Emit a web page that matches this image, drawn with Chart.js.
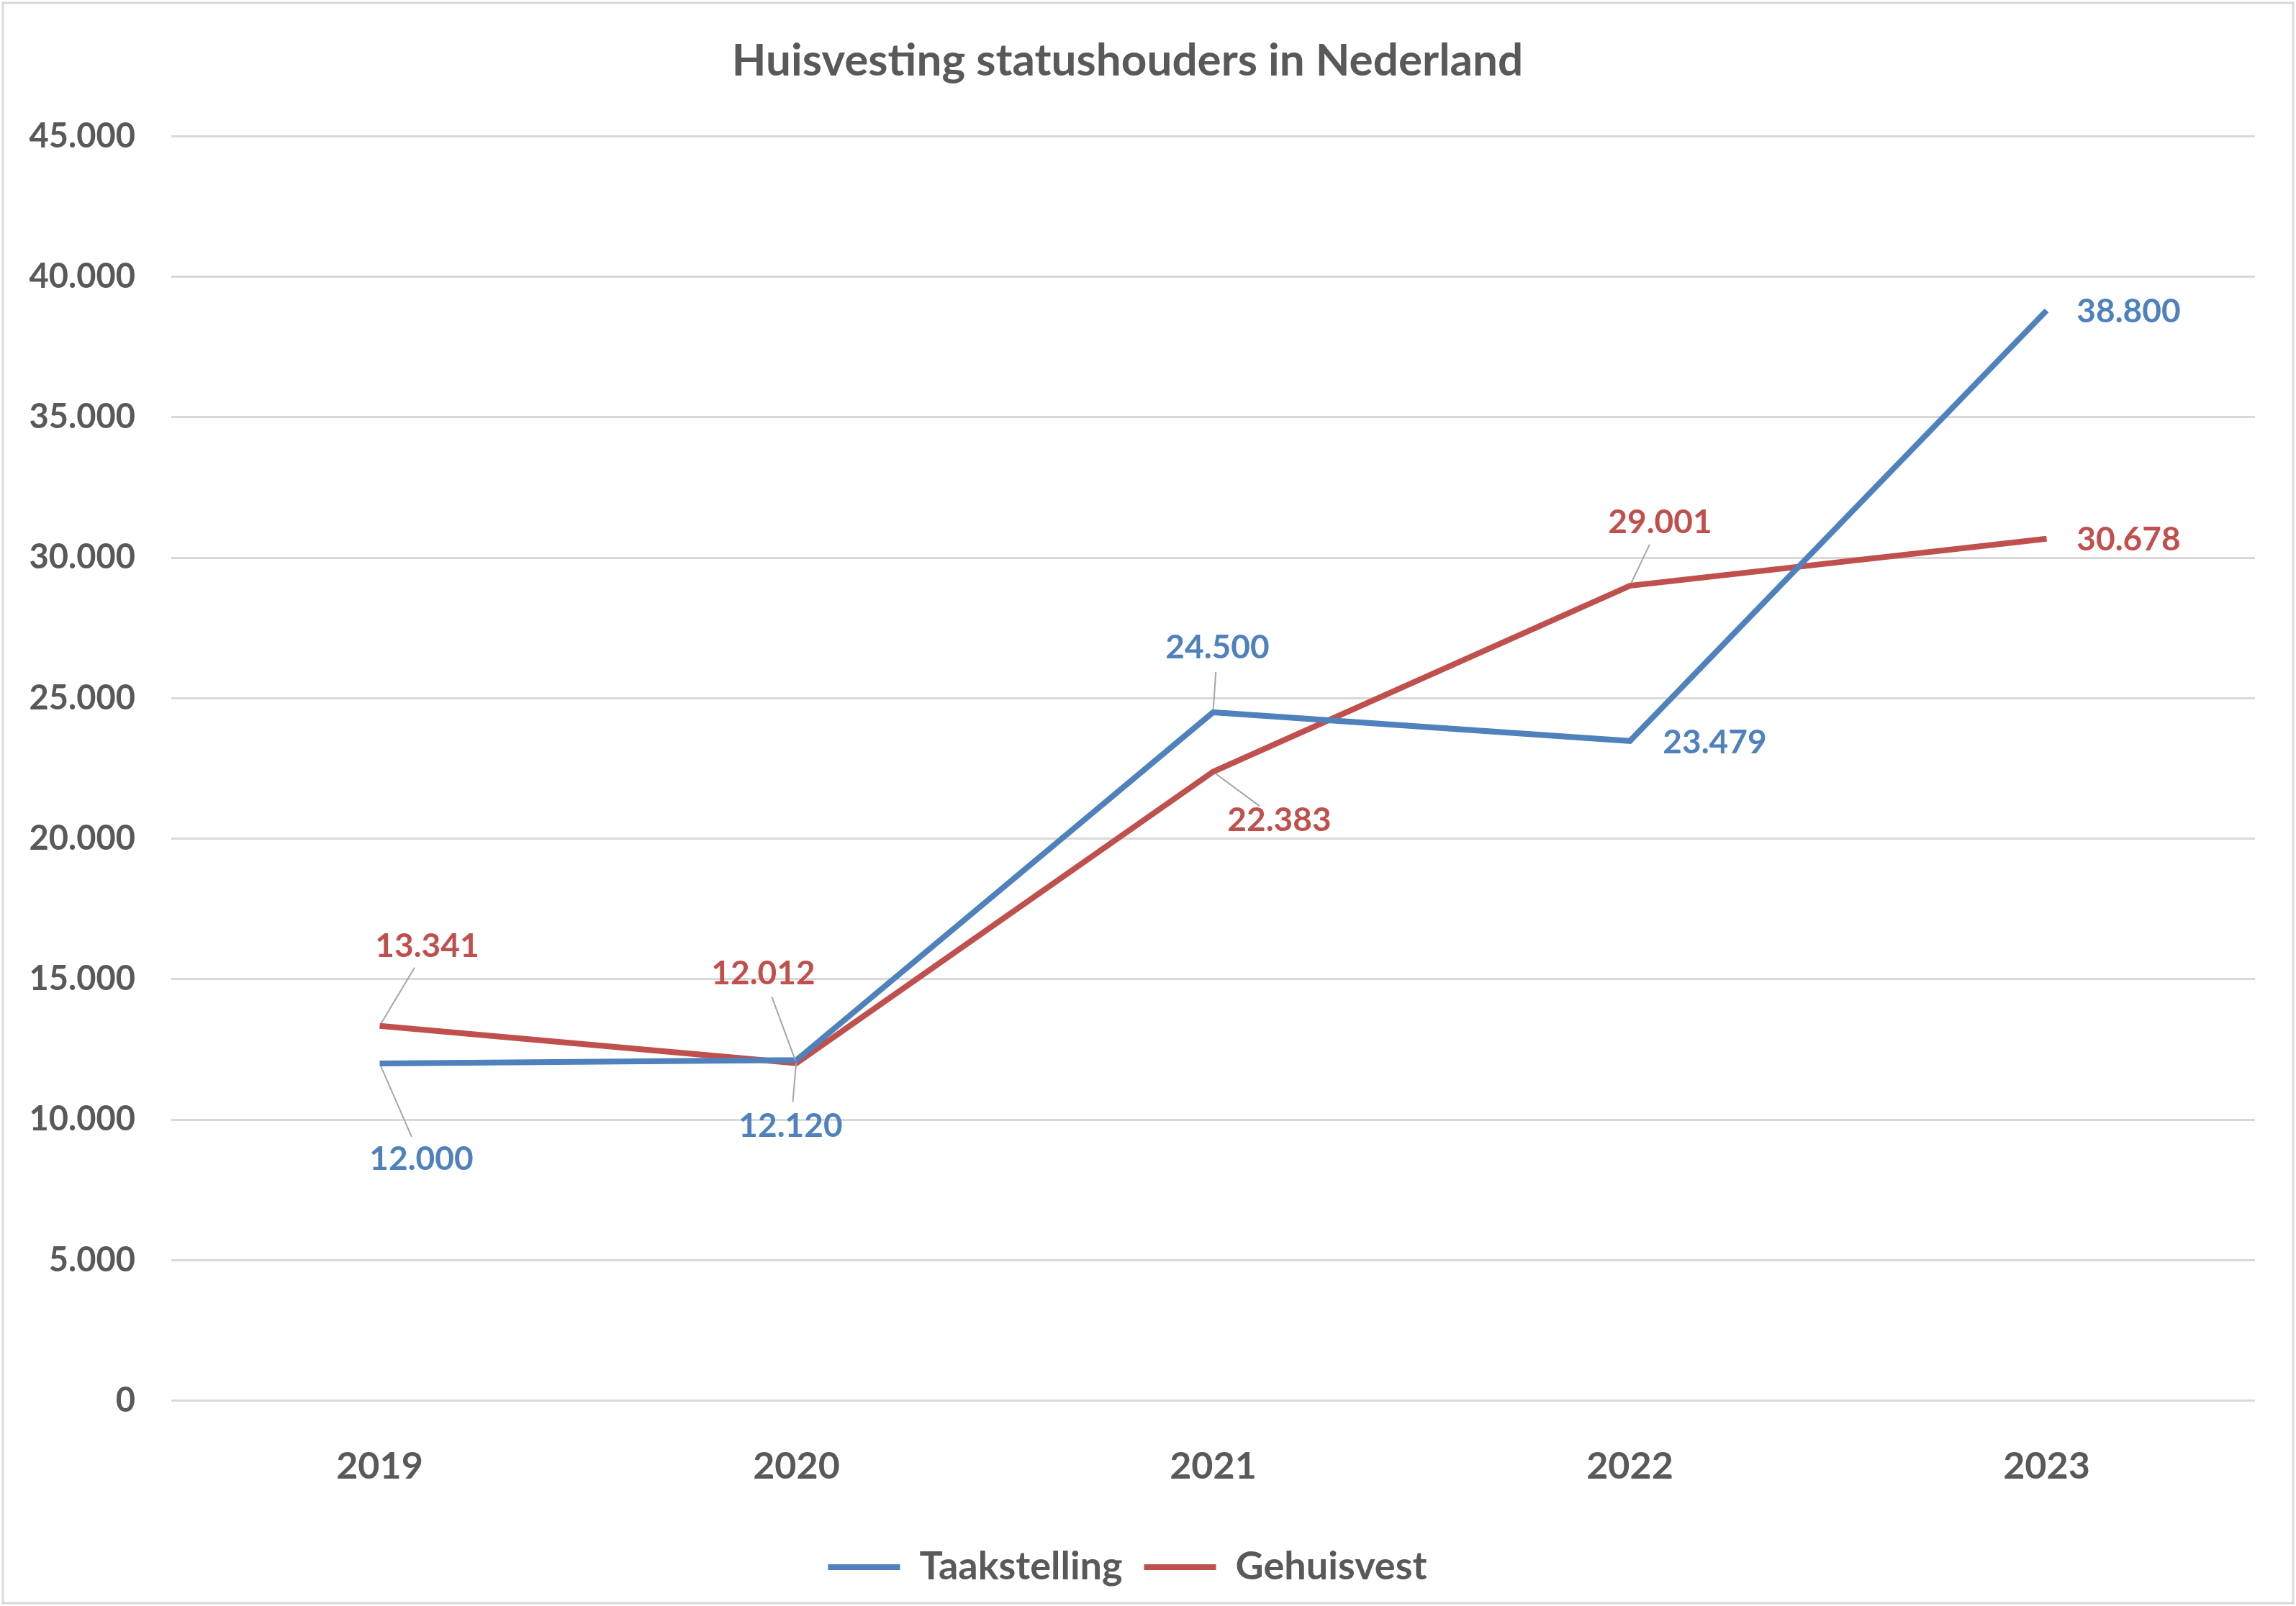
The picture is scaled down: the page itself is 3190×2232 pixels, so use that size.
<!DOCTYPE html>
<html>
<head>
<meta charset="utf-8">
<script src="https://cdn.jsdelivr.net/npm/chart.js@4/dist/chart.umd.min.js"></script>
<style>
  html, body { margin: 0; padding: 0; background: #fff; }
  canvas { display: block; }
</style>
</head>
<body>
<canvas id="chart" width="3190" height="2232"></canvas>
<script>
// Chart data
const years = ['2019', '2020', '2021', '2022', '2023'];
const taakstelling = [12000, 12120, 24500, 23479, 38800];
const gehuisvest = [13341, 12012, 22383, 29001, 30678];

// label offsets from the point, in pixels (dx, dy, leader line?)
const taakOffsets = [[58, 133, true], [-8, 92, true], [6, -90, true], [118, 2, false], [114, 2, false]];
const gehuisOffsets = [[66, -110, true], [-46, -124, true], [92, 68, true], [42, -88, true], [114, 2, false]];

const fontFamily = 'Lato, "Open Sans", sans-serif';

function fmt(v) {
    return v.toLocaleString('nl-NL');
}

// Data labels with leader lines
const dataLabels = {
    id: 'dataLabels',
    afterDatasetsDraw(chart) {
        const ctx = chart.ctx;
        const allOffsets = [taakOffsets, gehuisOffsets];
        chart.data.datasets.forEach((ds, di) => {
            const meta = chart.getDatasetMeta(di);
            meta.data.forEach((pt, i) => {
                const [dx, dy, leader] = allOffsets[di][i];
                const lx = pt.x + dx, ly = pt.y + dy;
                if (leader) {
                    const dist = Math.hypot(dx, dy);
                    const ux = dx / dist, uy = dy / dist;
                    ctx.save();
                    ctx.strokeStyle = '#a6a6a6';
                    ctx.lineWidth = 2;
                    ctx.beginPath();
                    ctx.moveTo(pt.x + ux * 4, pt.y + uy * 4);
                    ctx.lineTo(lx - ux * 34, ly - uy * 34);
                    ctx.stroke();
                    ctx.restore();
                }
                ctx.save();
                ctx.font = 'bold 46px ' + fontFamily;
                ctx.fillStyle = ds.borderColor;
                ctx.textAlign = 'center';
                ctx.textBaseline = 'middle';
                ctx.fillText(fmt(ds.data[i]), lx, ly);
                ctx.restore();
            });
        });
    }
};

// White background and light frame
const frame = {
    id: 'frame',
    beforeDraw(chart) {
        const ctx = chart.ctx;
        ctx.save();
        ctx.fillStyle = '#ffffff';
        ctx.fillRect(0, 0, chart.width, chart.height);
        ctx.strokeStyle = '#d9d9d9';
        ctx.lineWidth = 3;
        ctx.strokeRect(4, 4, chart.width - 8, chart.height - 8);
        ctx.restore();
    }
};

new Chart(document.getElementById('chart'), {
    type: 'line',
    data: {
        labels: years,
        datasets: [{
            label: 'Taakstelling',
            data: taakstelling,
            borderColor: '#4F81BD',
            backgroundColor: '#4F81BD',
            borderWidth: 8,
            pointRadius: 0,
            tension: 0
        }, {
            label: 'Gehuisvest',
            data: gehuisvest,
            borderColor: '#C0504D',
            backgroundColor: '#C0504D',
            borderWidth: 8,
            pointRadius: 0,
            tension: 0
        }]
    },
    options: {
        responsive: false,
        devicePixelRatio: 1,
        animation: false,
        layout: { padding: { left: 0, right: 57, top: 0, bottom: 17 } },
        scales: {
            x: {
                offset: true,
                grid: { display: false },
                border: { display: false },
                ticks: { color: '#595959', font: { family: fontFamily, size: 52, weight: 'bold' }, padding: 52 }
            },
            y: {
                min: 0,
                max: 45000,
                afterFit(scale) { scale.width = 238; },
                border: { display: false },
                grid: { color: '#d9d9d9', lineWidth: 3, drawTicks: false },
                ticks: {
                    stepSize: 5000,
                    padding: 50,
                    color: '#595959',
                    font: { family: fontFamily, size: 47, weight: 'bold' },
                    callback: v => fmt(v)
                }
            }
        },
        plugins: {
            title: {
                display: true,
                text: 'Huisvesting statushouders in Nederland',
                color: '#595959',
                font: { family: fontFamily, size: 62, weight: 'bold' },
                padding: { top: 48, bottom: 67 }
            },
            legend: {
                position: 'bottom',
                labels: {
                    color: '#595959',
                    font: { family: fontFamily, size: 54, weight: 'bold' },
                    usePointStyle: true,
                    pointStyle: 'line',
                    pointStyleWidth: 100,
                    padding: 30
                }
            },
            tooltip: { enabled: false }
        }
    },
    plugins: [frame, dataLabels]
});
</script>
</body>
</html>
